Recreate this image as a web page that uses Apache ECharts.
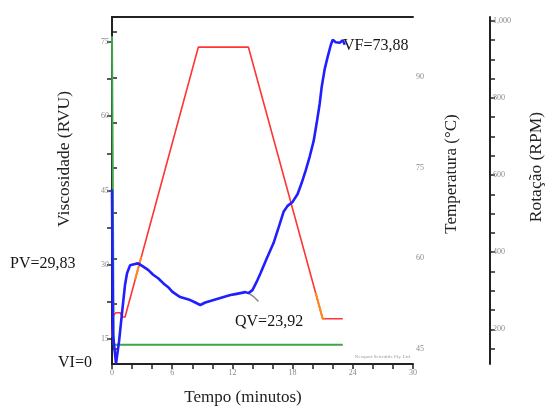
<!DOCTYPE html>
<html><head><meta charset="utf-8">
<script src="https://cdn.jsdelivr.net/npm/echarts@6/dist/echarts.min.js"></script>
<style>html,body{margin:0;padding:0;background:#fff}#c{width:547px;height:407px}</style>
</head><body><div id="c"></div>
<script>
// ---- data ----
const viscTime   = [0,0.05,0.1,0.2,0.3,0.4,0.7,1.0,1.3,1.5,1.8,2.2,2.6,3.0,3.6,4.1,4.6,5.1,5.6,6.0,6.5,6.8,7.3,7.8,8.3,8.8,9.3,9.8,10.3,10.8,11.3,11.8,12.3,12.8,13.3,13.6,14.0,14.4,14.8,15.4,16.1,16.6,17.1,17.5,18.0,18.5,18.9,19.3,19.7,20.1,20.4,20.7,20.9,21.2,21.5,21.8,22.0,22.3,22.7,23.0,23.2];
const viscValues = [45.2,30,16,14,12,10.1,14.5,20.3,26,28.3,29.9,30.1,30.3,29.8,29.0,28.0,27.3,26.3,25.5,24.6,23.9,23.5,23.2,22.9,22.4,21.9,22.4,22.7,23.0,23.3,23.6,23.9,24.1,24.3,24.5,24.3,24.9,26.5,28.3,31.2,34.4,37.5,40.7,41.9,42.7,44.3,46.5,49.0,51.8,55.0,58.6,62.5,65.9,69.5,72.0,74.3,75.4,74.9,74.8,75.3,74.4];
const hookTime   = [13.6,14.1,14.6];
const hookValues = [24.3,23.6,22.6];
const tempTime   = [0,0.1,0.4,0.8,1.1,1.3,8.6,13.6,21.0,23.0];
const tempValues = [47,50.5,51,51,50.3,50.3,95,95,50,50];
const orangeTimeA = [2.3,2.9];
const orangeTempA = [56.5,60.2];
const orangeTimeB = [20.3,21.0,21.2];
const orangeTempB = [54.3,50,50];
const rotTime    = [0,0.17,0.17,23];
const rotValues  = [960,960,160,160];

const timeLabels = [0,6,12,18,24,30];
const timeTicks  = [0,2,4,6,8,10,12,14,16,18,20,22,24,26,28,30];
const viscLabels = [15,30,45,60,75];
const viscTicks  = [15,22.5,30,37.5,45,52.5,60,67.5,75];
const tempLabels = [45,60,75,90];
const tempTicks  = [45,52.5,60,67.5,75,82.5,90,97.5];
const rotLabels  = [200,400,600,800,1000];
const rotTicks   = [150,200,250,300,350,400,450,500,550,600,650,700,750,800,850,900,950,1000];

const notes = [
  {text:'PV=29,83', x:10, y:264},
  {text:'VI=0', x:58, y:363},
  {text:'QV=23,92', x:235, y:322},
  {text:'VF=73,88', x:343, y:46}
];

const zip = (a,b)=>a.map((v,i)=>[v,b[i]]);
const SERIF = "'Liberation Serif','Times New Roman',serif";
const lab = {fontSize:8, color:'#8a8a8a', fontFamily:SERIF};
const axLine = {show:true, lineStyle:{color:'#222', width:2}};

const chart = echarts.init(document.getElementById('c'), null, {renderer:'canvas'});
chart.setOption({
  animation:false,
  backgroundColor:'#fff',
  grid:{left:112, right:134, top:17, bottom:43, show:false},
  xAxis:[{
    type:'value', min:0, max:30, position:'bottom',
    axisLine:axLine,
    axisTick:{show:true, length:5, customValues:timeTicks, lineStyle:{color:'#222', width:1.5}},
    axisLabel:Object.assign({customValues:timeLabels, margin:5}, lab),
    splitLine:{show:false}
  },{
    type:'value', min:0, max:30, position:'top',
    axisLine:axLine, axisTick:{show:false}, axisLabel:{show:false}, splitLine:{show:false}
  }],
  yAxis:[{
    type:'value', min:10, max:80, position:'left',
    axisLine:axLine,
    axisTick:{show:true, length:5, customValues:viscTicks, lineStyle:{color:'#222', width:1.5}},
    axisLabel:Object.assign({customValues:viscLabels, margin:3}, lab),
    splitLine:{show:false}
  },{
    type:'value', min:42.5, max:100, position:'right',
    axisLine:axLine,
    axisTick:{show:true, length:5, customValues:tempTicks, lineStyle:{color:'#222', width:1.5}},
    axisLabel:Object.assign({customValues:tempLabels, margin:3}, lab),
    splitLine:{show:false}
  },{
    type:'value', min:110, max:1010, position:'right', offset:77,
    axisLine:axLine,
    axisTick:{show:true, length:5, customValues:rotTicks, lineStyle:{color:'#222', width:1.5}},
    axisLabel:Object.assign({customValues:rotLabels, margin:3}, lab),
    splitLine:{show:false}
  }],
  series:[
    {type:'line', yAxisIndex:2, data:zip(rotTime,rotValues), symbol:'none', lineStyle:{color:'#3fa54a', width:2}, z:3},
    {type:'line', yAxisIndex:1, data:zip(tempTime,tempValues), symbol:'none', lineStyle:{color:'#ff3535', width:1.6}, z:4},
    {type:'line', yAxisIndex:1, data:zip(orangeTimeA,orangeTempA), symbol:'none', lineStyle:{color:'#ff8a1a', width:2}, z:5},
    {type:'line', yAxisIndex:1, data:zip(orangeTimeB,orangeTempB), symbol:'none', lineStyle:{color:'#ff8a1a', width:2}, z:5},
    {type:'line', yAxisIndex:0, data:zip(hookTime,hookValues), symbol:'none', lineStyle:{color:'#8a8a8a', width:1.5}, z:5},
    {type:'line', yAxisIndex:0, data:zip(viscTime,viscValues), symbol:'none', lineStyle:{color:'#1f1fff', width:2.6}, z:6}
  ],
  graphic:[
    ...notes.map(n=>({type:'text', x:n.x, y:n.y, z:20,
      style:{text:n.text, fontSize:16, fontFamily:SERIF, fill:'#151515', verticalAlign:'middle', align:'left'}})),
    {type:'text', x:64, y:159, rotation:Math.PI/2, style:{text:'Viscosidade (RVU)', fontSize:17.5, fontFamily:SERIF, fill:'#222', align:'center', verticalAlign:'middle'}},
    {type:'text', x:452, y:174, rotation:Math.PI/2, style:{text:'Temperatura (°C)', fontSize:17, fontFamily:SERIF, fill:'#222', align:'center', verticalAlign:'middle'}},
    {type:'text', x:536, y:167, rotation:Math.PI/2, style:{text:'Rotação (RPM)', fontSize:17.5, fontFamily:SERIF, fill:'#222', align:'center', verticalAlign:'middle'}},
    {type:'text', x:243, y:398, style:{text:'Tempo (minutos)', fontSize:17, fontFamily:SERIF, fill:'#222', align:'center', verticalAlign:'middle'}},
    {type:'text', x:411, y:357, style:{text:'Newport Scientific Pty. Ltd.', fontSize:5, fontFamily:SERIF, fill:'#999', align:'right', verticalAlign:'middle'}}
  ]
});
</script></body></html>
